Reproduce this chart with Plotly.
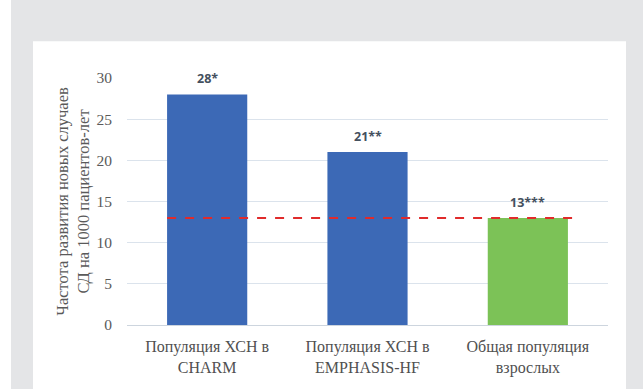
import plotly.graph_objects as go

# Data
categories = ["Популяция ХСН в<br>CHARM", "Популяция ХСН в<br>EMPHASIS-HF", "Общая популяция<br>взрослых"]
values = [28, 21, 13]
value_labels = ["28*", "21**", "13***"]
reference_level = 13
y_ticks = [0, 5, 10, 15, 20, 25, 30]

bar_colors = ["#3c69b6", "#3c69b6", "#7cc257"]

L, R, T, B = 127, 35, 78, 62
W, H = 643, 389
PW, PH = W - L - R, H - T - B


def px_x(px):
    return (px - L) / PW


def px_y(py):
    return (H - B - py) / PH


fig = go.Figure()
fig.add_trace(go.Bar(
    x=list(range(len(categories))),
    y=values,
    marker=dict(color=bar_colors, line=dict(width=0)),
    width=0.5,
    hoverinfo="skip",
))

# Value labels above bars
for i, (v, lab) in enumerate(zip(values, value_labels)):
    fig.add_annotation(
        x=i, y=v, text=f"<b>{lab}</b>", showarrow=False,
        yanchor="bottom", yshift=5,
        font=dict(family="Open Sans, Liberation Sans, sans-serif", size=12.5, color="#44505e"),
    )

serif = "Liberation Serif, Times New Roman, serif"

fig.update_layout(
    width=W, height=H,
    margin=dict(l=L, r=R, t=T, b=B),
    paper_bgcolor="#e4e5e7",
    plot_bgcolor="white",
    showlegend=False,
    xaxis=dict(
        tickmode="array", tickvals=list(range(len(categories))), ticktext=categories,
        range=[-0.5, len(categories) - 0.5],
        showgrid=False, zeroline=False, showline=True, linecolor="#cdd5de", linewidth=1,
        ticks="", tickfont=dict(family=serif, size=16, color="#505050"),
        ticklabelstandoff=7,
    ),
    yaxis=dict(
        range=[0, 30], tickvals=y_ticks,
        showgrid=True, gridcolor="#dbe3ec", gridwidth=1,
        zeroline=False, showline=False, ticks="",
        tickfont=dict(family=serif, size=15.5, color="#5a5a5a"),
        ticklabelstandoff=14,
        title=dict(
            text="Частота развития новых случаев<br>СД на 1000 пациентов-лет",
            font=dict(family=serif, size=16.5, color="#5a5a5a"),
            standoff=2,
        ),
    ),
    shapes=[
        # white panel on the grey frame
        dict(type="rect", xref="paper", yref="paper", layer="below",
             x0=px_x(33), x1=px_x(626), y0=px_y(395), y1=px_y(41),
             fillcolor="white", line=dict(width=0)),
        dict(type="rect", xref="paper", yref="paper", layer="below",
             x0=px_x(-5), x1=px_x(11), y0=px_y(395), y1=px_y(-5),
             fillcolor="white", line=dict(width=0)),
        # reference level line
        dict(type="line", xref="x", yref="y", layer="above",
             x0=-0.25, x1=2.28, y0=reference_level, y1=reference_level,
             line=dict(color="#e02b2b", width=2, dash="dash")),
    ],
)

fig.write_html("out.html")
